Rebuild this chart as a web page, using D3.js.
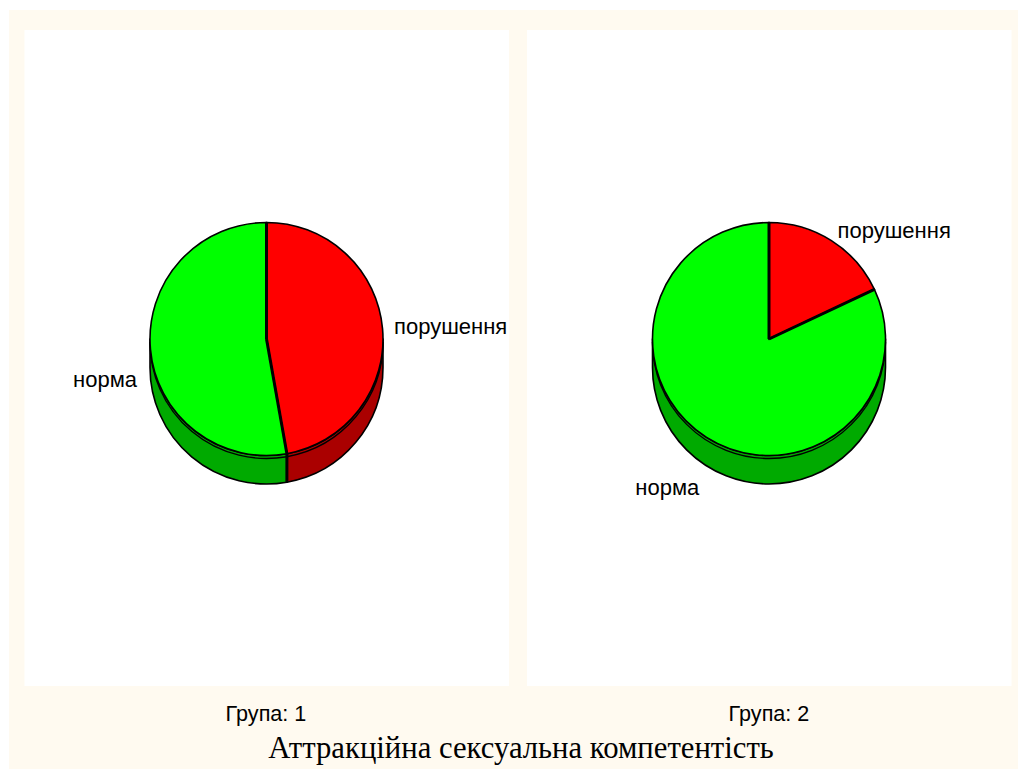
<!DOCTYPE html>
<html>
<head>
<meta charset="utf-8">
<script src="https://cdnjs.cloudflare.com/ajax/libs/d3/7.8.5/d3.min.js"></script>
<style>
html, body { margin: 0; padding: 0; background: #fff; }
svg { display: block; }
</style>
</head>
<body>
<script>
// Two 3D-style pies: attractive sexual competence by group
const categories = ["порушення", "норма"];
const group1Values = [47.2, 52.8];
const group2Values = [18, 82];
const groupLabels = ["Група: 1", "Група: 2"];
const chartTitle = "Аттракційна сексуальна компетентість";

const W = 1018, H = 769;
const topColors = { "порушення": "#ff0000", "норма": "#00ff00" };
const sideColors = { "порушення": "#aa0000", "норма": "#00aa00" };

const panels = [
  { x: 24.5, width: 484.5, cx: 266.5, values: group1Values, label: groupLabels[0], labelX: 266 },
  { x: 527, width: 484.5, cx: 769, values: group2Values, label: groupLabels[1], labelX: 769 }
];
const cy = 339, radius = 116.5, depth = 28.5, rimGap = 3;

const svg = d3.select("body").append("svg").attr("width", W).attr("height", H);

svg.append("rect").attr("x", 9).attr("y", 10).attr("width", W - 9).attr("height", H - 10).attr("fill", "#fffaf0");

const pie = d3.pie().sort(null).value(d => d.value);
const arc = d3.arc().innerRadius(0).outerRadius(radius);

// Outline of the visible wall between two pie angles, measured clockwise from 12 o'clock
function wallPath(a0, a1, cx) {
  const start = Math.max(a0, Math.PI / 2), end = Math.min(a1, Math.PI * 3 / 2);
  if (end <= start) return null;
  const p = d3.path();
  const toCanvas = a => a - Math.PI / 2;
  p.arc(cx, cy, radius, toCanvas(start), toCanvas(end), false);
  p.arc(cx, cy + depth, radius, toCanvas(end), toCanvas(start), true);
  p.closePath();
  return p.toString();
}

// Thin rim line just under the top face along the front edge
function rimPath(a0, a1, cx) {
  const start = Math.max(a0, Math.PI / 2), end = Math.min(a1, Math.PI * 3 / 2);
  if (end <= start) return null;
  const p = d3.path();
  p.arc(cx, cy + rimGap, radius, start - Math.PI / 2, end - Math.PI / 2, false);
  return p.toString();
}

panels.forEach(panel => {
  const g = svg.append("g");
  g.append("rect").attr("x", panel.x).attr("y", 30).attr("width", panel.width).attr("height", 656).attr("fill", "#ffffff");

  const data = pie(categories.map((c, i) => ({ name: c, value: panel.values[i] })));

  g.selectAll("path.wall").data(data).join("path")
    .attr("class", "wall")
    .attr("d", d => wallPath(d.startAngle, d.endAngle, panel.cx))
    .attr("fill", d => sideColors[d.data.name])
    .attr("stroke", "#000").attr("stroke-width", 1.6).attr("stroke-linejoin", "round");

  // Seam on the wall where two slices meet at the front
  data.filter(d => d.endAngle > Math.PI / 2 && d.endAngle < Math.PI * 1.5).forEach(d => {
    const sx = panel.cx + radius * Math.sin(d.endAngle);
    const sy = cy - radius * Math.cos(d.endAngle);
    g.append("line")
      .attr("x1", sx).attr("y1", sy)
      .attr("x2", sx).attr("y2", sy + depth)
      .attr("stroke", "#000").attr("stroke-width", 3);
  });

  g.selectAll("path.rim").data(data).join("path")
    .attr("class", "rim")
    .attr("d", d => rimPath(d.startAngle, d.endAngle, panel.cx))
    .attr("fill", "none").attr("stroke", "#000").attr("stroke-width", 1.4);

  g.selectAll("path.face").data(data).join("path")
    .attr("class", "face")
    .attr("transform", `translate(${panel.cx},${cy})`)
    .attr("d", arc)
    .attr("fill", d => topColors[d.data.name])
    .attr("stroke", "#000").attr("stroke-width", 1.6).attr("stroke-linejoin", "miter");

  // Slice borders are drawn again so the radii read heavier than the rim
  const radii = g.append("g").attr("transform", `translate(${panel.cx},${cy})`);
  radii.selectAll("line").data(data).join("line")
    .attr("x1", 0).attr("y1", 0)
    .attr("x2", d => radius * Math.sin(d.startAngle))
    .attr("y2", d => -radius * Math.cos(d.startAngle))
    .attr("stroke", "#000").attr("stroke-width", 3);

  // Slice labels sit just outside the rim at each slice's mid-angle
  g.selectAll("text.slice").data(data).join("text")
    .attr("class", "slice")
    .attr("x", d => {
      const m = (d.startAngle + d.endAngle) / 2;
      const side = m < Math.PI ? 11.5 : 13.5;
      return panel.cx + (radius + side) * Math.sin(m);
    })
    .attr("y", d => {
      const m = (d.startAngle + d.endAngle) / 2;
      const cos = Math.cos(m);
      const base = cy - (radius + 11.5) * cos - 1;
      return cos < 0 ? base + depth + 15 * -cos : base;
    })
    .attr("dy", "0.35em")
    .attr("text-anchor", d => (d.startAngle + d.endAngle) / 2 < Math.PI ? "start" : "end")
    .attr("font-family", "'Liberation Sans', Arial, sans-serif")
    .attr("font-size", 22)
    .attr("fill", "#000")
    .text(d => d.data.name);

  g.append("text")
    .attr("x", panel.labelX).attr("y", 721)
    .attr("text-anchor", "middle")
    .attr("font-family", "'Liberation Sans', Arial, sans-serif")
    .attr("font-size", 21.6)
    .attr("fill", "#000")
    .text(panel.label);
});

svg.append("text")
  .attr("x", 521).attr("y", 758)
  .attr("text-anchor", "middle")
  .attr("font-family", "'Liberation Serif', 'Times New Roman', serif")
  .attr("font-size", 30.7)
  .attr("fill", "#000")
  .text(chartTitle);
</script>
</body>
</html>
